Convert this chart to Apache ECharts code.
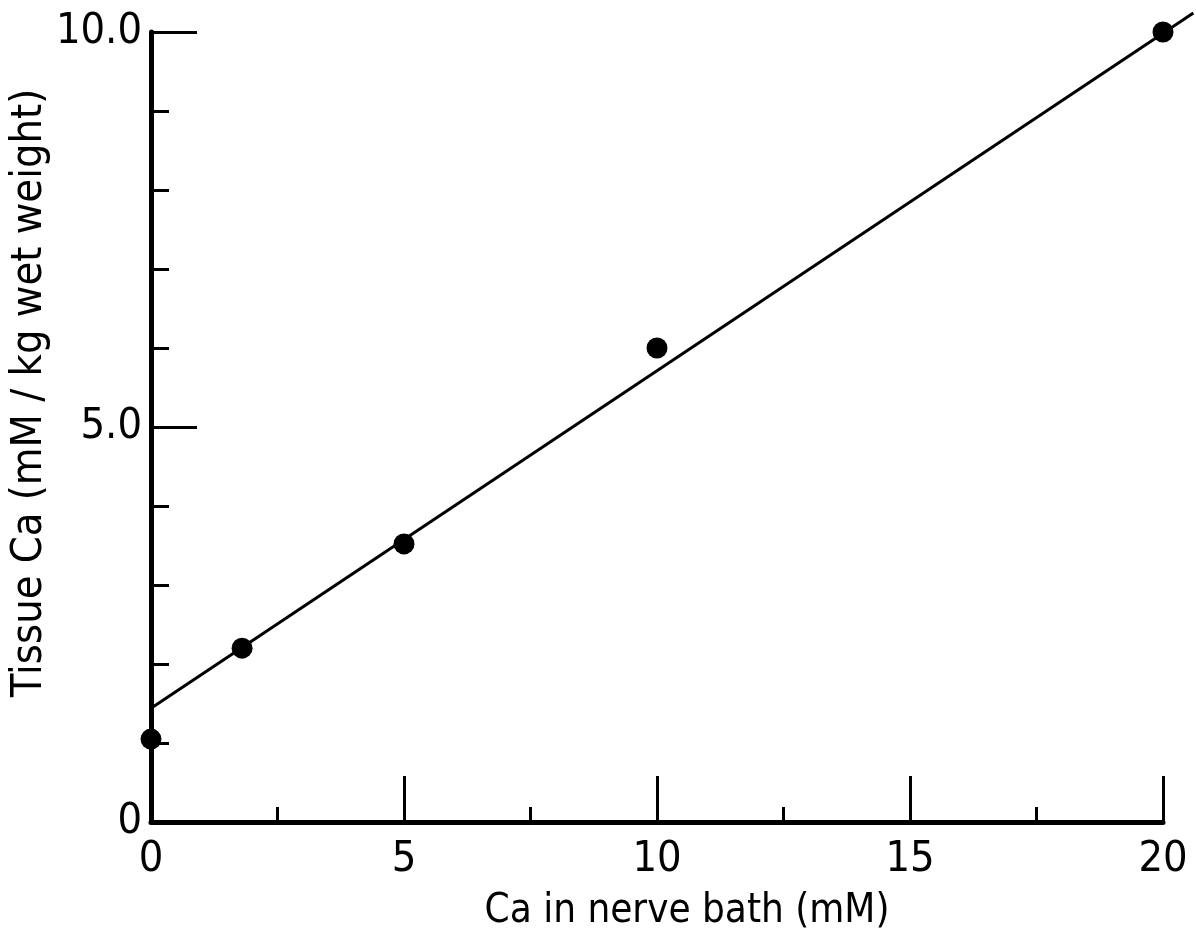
<!DOCTYPE html>
<html>
<head>
<meta charset="utf-8">
<script src="https://cdn.jsdelivr.net/npm/echarts@6/dist/echarts.min.js"></script>
<style>html,body{margin:0;padding:0;background:#fff}#c{width:1196px;height:942px}</style>
</head>
<body>
<div id="c"></div>
<script>
// Data
const bathCa = [0, 1.8, 5, 10, 20];
const tissueCa = [1.05, 2.2, 3.52, 6.0, 10.0];
const fitX = [0, 20.6];
const fitY = [1.44, 10.24];
const xTickLabels = ['0', '5', '10', '15', '20'];
const yTickLabels = ['0', '5.0', '10.0'];
const xTitle = 'Ca in nerve bath (mM)';
const yTitle = 'Tissue Ca (mM / kg wet weight)';

const FONT = '"Liberation Sans Narrow", "DejaVu Sans Condensed", "Liberation Sans", sans-serif';
const chart = echarts.init(document.getElementById('c'));

const pts = bathCa.map((x, i) => [x, tissueCa[i]]);
const fit = fitX.map((x, i) => [x, fitY[i]]);

const xLab = v => { const i = [0,5,10,15,20].indexOf(v); return i >= 0 ? xTickLabels[i] : ''; };
const yLab = v => { const i = [0,5,10].indexOf(v); return i >= 0 ? yTickLabels[i] : ''; };

chart.setOption({
  animation: false,
  backgroundColor: '#fff',
  grid: { left: 150, right: 33, top: 32, bottom: 120 },
  xAxis: [
    {
      type: 'value', min: 0, max: 20, interval: 2.5, position: 'bottom',
      axisLine: { show: true, lineStyle: { color: '#000', width: 5 } },
      axisTick: { show: true, inside: true, length: 15, lineStyle: { color: '#000', width: 3 } },
      axisLabel: { show: false },
      splitLine: { show: false },
      name: xTitle, nameLocation: 'middle', nameGap: 70,
      nameTextStyle: { fontFamily: FONT, fontSize: 40, color: '#000', padding: [0, 0, 0, 60] }
    },
    {
      type: 'value', min: 0, max: 20, interval: 5, position: 'bottom',
      axisLine: { show: false },
      axisTick: { show: true, inside: true, length: 46, lineStyle: { color: '#000', width: 3 } },
      axisLabel: { show: true, margin: 16, formatter: xLab, fontFamily: FONT, fontSize: 43, color: '#000' },
      splitLine: { show: false }
    }
  ],
  yAxis: [
    {
      type: 'value', min: 0, max: 10, interval: 1, position: 'left',
      axisLine: { show: true, lineStyle: { color: '#000', width: 5 } },
      axisTick: { show: true, inside: true, length: 18, lineStyle: { color: '#000', width: 3 } },
      axisLabel: { show: false },
      splitLine: { show: false },
      name: yTitle, nameLocation: 'middle', nameGap: 100, nameRotate: 90,
      nameTextStyle: { fontFamily: FONT, fontSize: 43, color: '#000', padding: [0, 0, 0, 68] }
    },
    {
      type: 'value', min: 0, max: 10, interval: 5, position: 'left',
      axisLine: { show: false },
      axisTick: { show: true, inside: true, length: 46, lineStyle: { color: '#000', width: 3 } },
      axisLabel: { show: true, margin: 9, formatter: yLab, fontFamily: FONT, fontSize: 43, color: '#000' },
      splitLine: { show: false }
    }
  ],
  series: [
    {
      type: 'custom', data: fit, xAxisIndex: 0, yAxisIndex: 0, clip: false, z: 3,
      renderItem: (params, api) => {
        const i = params.dataIndex;
        if (i === 0) return null;
        const a = api.coord(fit[i - 1]);
        const b = api.coord([api.value(0), api.value(1)]);
        return { type: 'line', shape: { x1: a[0], y1: a[1], x2: b[0], y2: b[1] },
                 style: { stroke: '#000', lineWidth: 3 } };
      }
    },
    {
      type: 'scatter', data: pts, xAxisIndex: 0, yAxisIndex: 0, clip: false,
      symbol: 'circle', symbolSize: 21, itemStyle: { color: '#000', opacity: 1 }, z: 4
    }
  ]
});
</script>
</body>
</html>
